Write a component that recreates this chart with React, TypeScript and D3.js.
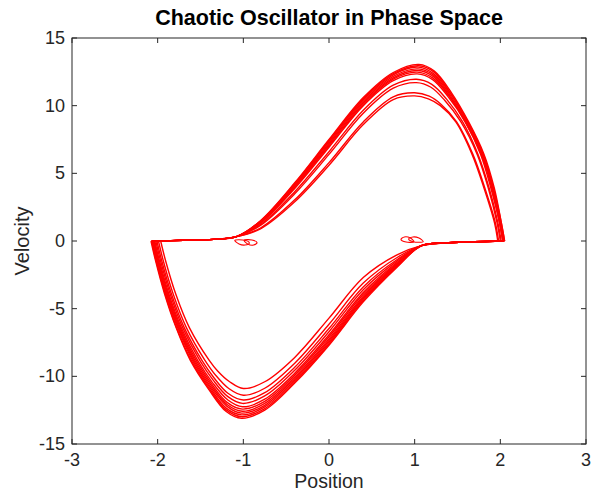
import React from 'react';
import * as d3 from 'd3';

// axis ticks
const xTicks = [-3, -2, -1, 0, 1, 2, 3];
const yTicks = [-15, -10, -5, 0, 5, 10, 15];

// upper half of each loop (left corner -> hump -> right corner)
const upperStartX = [-2.078, -2.07, -2.065, -2.058, -2.05, -2.043, -2.034, -2.022, -2.009, -1.991, -1.965];
const upperFlat = [[-1.7, 0.05], [-1.35, 0.12], [-1.08, 0.32]];
const riseX = [-0.8, -0.4, 0, 0.4, 0.75];
const upperRiseY = [
  [1.5, 4.3, 7.5, 10.6, 12.45],
  [1.47, 4.24, 7.42, 10.51, 12.36],
  [1.45, 4.18, 7.34, 10.43, 12.28],
  [1.41, 4.1, 7.23, 10.32, 12.17],
  [1.38, 4.03, 7.13, 10.21, 12.06],
  [1.35, 3.96, 7.03, 10.11, 11.96],
  [1.32, 3.88, 6.93, 10.0, 11.85],
  [1.22, 3.64, 6.6, 9.66, 11.51],
  [1.15, 3.49, 6.4, 9.44, 11.29],
  [0.96, 3.04, 5.79, 8.8, 10.65],
  [0.9, 2.9, 5.6, 8.6, 10.45],
];
const upperPeak = [
  [1.05, 13.05], [1.05, 12.95], [1.04, 12.85], [1.04, 12.72], [1.04, 12.6], [1.03, 12.48],
  [1.03, 12.35], [1.02, 11.95], [1.02, 11.7], [1.0, 10.95], [1.0, 10.72],
];
const upperShoulderA = [
  [1.23, 12.55], [1.23, 12.46], [1.22, 12.37], [1.22, 12.26], [1.22, 12.15], [1.21, 12.05],
  [1.21, 11.93], [1.2, 11.58], [1.19, 11.36], [1.17, 10.7], [1.16, 10.5],
];
const upperShoulderB = [
  [1.43, 10.95], [1.42, 10.91], [1.42, 10.87], [1.41, 10.82], [1.4, 10.77], [1.4, 10.72],
  [1.39, 10.67], [1.37, 10.5], [1.35, 10.4], [1.31, 10.09], [1.3, 10.0],
];
const fallY = [8.8, 6.4, 3.9, 1.4, 0];
const upperFallX = [
  [1.63, 1.81, 1.93, 2.01, 2.05],
  [1.62, 1.8, 1.92, 2.01, 2.05],
  [1.62, 1.8, 1.92, 2.0, 2.04],
  [1.61, 1.79, 1.91, 2.0, 2.04],
  [1.6, 1.78, 1.91, 1.99, 2.03],
  [1.59, 1.78, 1.9, 1.99, 2.03],
  [1.59, 1.77, 1.89, 1.99, 2.03],
  [1.56, 1.74, 1.87, 1.97, 2.01],
  [1.54, 1.73, 1.86, 1.96, 2.0],
  [1.49, 1.68, 1.82, 1.94, 1.98],
  [1.48, 1.67, 1.81, 1.93, 1.97],
];

// lower half of each loop (right corner -> trough -> left corner)
const lowerStartX = [2.05, 2.05, 2.04, 2.04, 2.03, 2.03, 2.03, 2.01, 2.0, 1.98, 1.97];
const lowerFlat = [[1.7, -0.06], [1.35, -0.14], [1.08, -0.34]];
const dropX = [0.8, 0.4, 0, -0.4, -0.75];
const lowerDropY = [
  [-1.9, -4.5, -7.7, -10.5, -12.5],
  [-1.85, -4.4, -7.59, -10.4, -12.38],
  [-1.8, -4.29, -7.47, -10.28, -12.26],
  [-1.74, -4.19, -7.35, -10.17, -12.14],
  [-1.69, -4.08, -7.23, -10.05, -12.0],
  [-1.62, -3.94, -7.08, -9.91, -11.85],
  [-1.55, -3.81, -6.93, -9.77, -11.69],
  [-1.45, -3.6, -6.7, -9.55, -11.45],
  [-1.35, -3.39, -6.47, -9.33, -11.21],
  [-1.2, -3.11, -6.15, -9.03, -10.88],
  [-1.0, -2.7, -5.7, -8.6, -10.4],
];
const lowerTrough = [
  [-1.02, -13.1], [-1.02, -12.98], [-1.02, -12.85], [-1.02, -12.72], [-1.01, -12.58], [-1.01, -12.42],
  [-1.01, -12.25], [-1.01, -12.0], [-1.0, -11.75], [-1.0, -11.4], [-1.0, -10.9],
];
const lowerShoulderA = [
  [-1.2, -12.6], [-1.2, -12.48], [-1.2, -12.35], [-1.19, -12.22], [-1.19, -12.08], [-1.19, -11.92],
  [-1.18, -11.75], [-1.18, -11.5], [-1.18, -11.25], [-1.17, -10.9], [-1.16, -10.4],
];
const lowerShoulderB = [
  [-1.4, -11.0], [-1.395, -10.92], [-1.389, -10.84], [-1.383, -10.76], [-1.376, -10.67], [-1.369, -10.57],
  [-1.361, -10.46], [-1.35, -10.3], [-1.339, -10.14], [-1.323, -9.92], [-1.3, -9.6],
];
const climbY = [-8.8, -6.4, -3.9, -1.4, 0];
const lowerClimbX = [
  [-1.62, -1.785, -1.92, -2.027, -2.078],
  [-1.61, -1.78, -1.913, -2.021, -2.07],
  [-1.595, -1.767, -1.905, -2.014, -2.065],
  [-1.582, -1.758, -1.898, -2.007, -2.058],
  [-1.568, -1.748, -1.889, -1.999, -2.05],
  [-1.552, -1.737, -1.88, -1.991, -2.043],
  [-1.535, -1.725, -1.87, -1.982, -2.034],
  [-1.51, -1.708, -1.855, -1.969, -2.022],
  [-1.485, -1.69, -1.84, -1.955, -2.009],
  [-1.45, -1.665, -1.82, -1.937, -1.991],
  [-1.4, -1.63, -1.79, -1.91, -1.965],
];

// small eddies near the slow branches
const eddies = [
  [[-1.1, 0.05], [-1.05, -0.22], [-0.98, -0.3], [-0.93, -0.15], [-0.98, 0.05]],
  [[-0.99, 0.05], [-0.95, -0.22], [-0.88, -0.3], [-0.84, -0.12], [-0.9, 0.08]],
  [[1.1, -0.05], [1.05, 0.22], [0.98, 0.3], [0.93, 0.15], [0.98, -0.05]],
  [[0.99, -0.05], [0.95, 0.22], [0.88, 0.3], [0.84, 0.12], [0.9, -0.08]],
];

const W = 594;
const H = 491;
const m = { left: 72, right: 586, top: 38, bottom: 444 };
const font = '"Liberation Sans", Arial, Helvetica, sans-serif';
const axisColor = '#262626';

const App = () => {
  const x = d3.scaleLinear().domain([-3, 3]).range([m.left, m.right]);
  const y = d3.scaleLinear().domain([-15, 15]).range([m.bottom, m.top]);

  const line = d3
    .line<number[]>()
    .x((d) => x(d[0]))
    .y((d) => y(d[1]))
    .curve(d3.curveCatmullRom.alpha(0.5));
  const closed = d3
    .line<number[]>()
    .x((d) => x(d[0]))
    .y((d) => y(d[1]))
    .curve(d3.curveCatmullRomClosed.alpha(0.5));

  const arcs: number[][][] = [];
  upperStartX.forEach((sx, i) => {
    arcs.push([
      [sx, 0],
      ...upperFlat,
      ...riseX.map((rx, j) => [rx, upperRiseY[i][j]]),
      upperPeak[i],
      upperShoulderA[i],
      upperShoulderB[i],
      ...fallY.map((fy, j) => [upperFallX[i][j], fy]),
    ]);
    arcs.push([
      [lowerStartX[i], 0],
      ...lowerFlat,
      ...dropX.map((dx, j) => [dx, lowerDropY[i][j]]),
      lowerTrough[i],
      lowerShoulderA[i],
      lowerShoulderB[i],
      ...climbY.map((cy, j) => [lowerClimbX[i][j], cy]),
    ]);
  });

  const tickLen = 5;

  return (
    <svg width={W} height={H} style={{ position: 'absolute', left: 0, top: 0, background: '#fff' }}>
      <rect x={0} y={0} width={W} height={H} fill="#fff" />
      <g fill="none" stroke="#ff0000" strokeWidth={1.4} strokeLinejoin="round">
        {arcs.map((a, i) => (
          <path key={i} d={line(a) || ''} />
        ))}
        {eddies.map((e, i) => (
          <path key={'e' + i} d={closed(e) || ''} strokeWidth={1.1} />
        ))}
      </g>

      <g stroke={axisColor} strokeWidth={1} fill="none">
        <rect x={m.left} y={m.top} width={m.right - m.left} height={m.bottom - m.top} />
        {xTicks.map((t) => (
          <g key={'xt' + t}>
            <line x1={x(t)} x2={x(t)} y1={m.bottom} y2={m.bottom - tickLen} />
            <line x1={x(t)} x2={x(t)} y1={m.top} y2={m.top + tickLen} />
          </g>
        ))}
        {yTicks.map((t) => (
          <g key={'yt' + t}>
            <line x1={m.left} x2={m.left + tickLen} y1={y(t)} y2={y(t)} />
            <line x1={m.right} x2={m.right - tickLen} y1={y(t)} y2={y(t)} />
          </g>
        ))}
      </g>

      <g fontFamily={font} fontSize={18} fill={axisColor}>
        {xTicks.map((t) => (
          <text key={'xl' + t} x={x(t)} y={m.bottom + 22} textAnchor="middle">
            {t}
          </text>
        ))}
        {yTicks.map((t) => (
          <text key={'yl' + t} x={m.left - 7} y={y(t) + 6} textAnchor="end">
            {t}
          </text>
        ))}
      </g>

      <text x={(m.left + m.right) / 2} y={488} textAnchor="middle" fontFamily={font} fontSize={19.5} fill={axisColor}>
        Position
      </text>
      <text
        transform={`translate(29,${(m.top + m.bottom) / 2}) rotate(-90)`}
        textAnchor="middle"
        fontFamily={font}
        fontSize={20}
        fill={axisColor}
      >
        Velocity
      </text>
      <text x={(m.left + m.right) / 2} y={25} textAnchor="middle" fontFamily={font} fontSize={21.5} fontWeight="bold" fill="#000">
        Chaotic Oscillator in Phase Space
      </text>
    </svg>
  );
};

export default App;
